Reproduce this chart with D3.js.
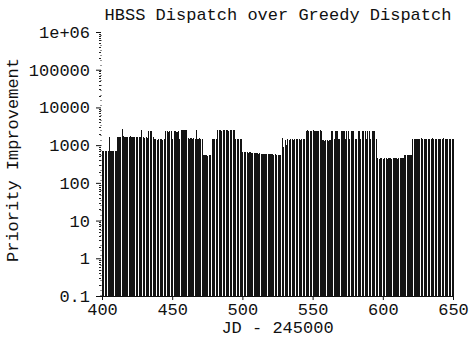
<!DOCTYPE html>
<html>
<head>
<meta charset="utf-8">
<script src="https://cdn.jsdelivr.net/npm/d3@7"></script>
<style>
  body { margin: 0; background: #fff; }
  svg { display: block; }
  text { font-family: "Courier New", "Liberation Mono", monospace; fill: #111; }
</style>
</head>
<body>
<div id="chart"></div>
<script>
// julian day offset (JD - 245000), one impulse per day
var days = d3.range(400, 651);

// priority improvement, day 400 .. 650
var improvement = [
  // 400-410
  700, 690, 700, 710, 700, 1650, 700, 690, 700, 700, 710,
  // 411-427
  1650, 1600, 1650, 2650, 1700, 1650, 1650, 1600, 1650, 1700, 1650, 1650, 1600, 1650, 1600, 1650, 1600,
  // 428-436
  2500, 1600, 1550, 1600, 1550, 2350, 2400, 2350, 1600,
  // 437-444
  1450, 1450, 1400, 1450, 1450, 1450, 1400, 1450,
  // 445-449
  2350, 2350, 2300, 2350, 2350,
  // 450-455
  1500, 2350, 2350, 2300, 2350, 1500,
  // 456-460
  2550, 2500, 2550, 2500, 2550,
  // 461-471
  1550, 1500, 1550, 1500, 1550, 1500, 2550, 1500, 1550, 1500, 1500,
  // 472-477
  550, 540, 550, 530, 550, 540,
  // 478-481
  1500, 1450, 1500, 1500,
  // 482-494
  2550, 2500, 2550, 2400, 2550, 2550, 2500, 2550, 2400, 2550, 2550, 2500, 2550,
  // 495-499
  1500, 1500, 1450, 1500, 1500,
  // 500-527
  650, 650, 640, 640, 630, 640, 620, 630, 620, 610, 620, 600, 610, 600,
  590, 600, 590, 580, 590, 570, 580, 570, 560, 570, 560, 550, 560, 550,
  // 528-544
  1550, 900, 1400, 1000, 1450, 1400, 1450, 1450, 1400, 1450, 1450, 1500, 1450, 1400, 1450, 1450, 1450,
  // 545-556
  2400, 2450, 2400, 2350, 2400, 2450, 2400, 2400, 2350, 2400, 2450, 2400,
  // 557-562
  1350, 1300, 1350, 1350, 1300, 1350,
  // 563-595
  2350, 2350, 1500, 2350, 2350, 1500, 1500, 2350, 2350, 2350, 1500, 2350, 2350, 1500, 2350, 2350, 2350,
  1500, 1500, 2350, 2350, 1500, 2350, 2350, 2350, 1500, 2350, 2350, 1500, 2350, 2350, 2350, 1500,
  // 596-614
  450, 440, 450, 460, 440, 450, 450, 440, 460, 450, 440, 450, 460, 450, 440, 450, 460, 450, 450,
  // 615-620
  550, 540, 550, 560, 550, 540,
  // 621-650
  1500, 1450, 1500, 1500, 1450, 1500, 1550, 1500, 1450, 1500, 1500, 1450, 1500, 1500, 1550,
  1500, 1450, 1500, 1500, 1450, 1500, 1500, 1550, 1500, 1450, 1500, 1500, 1450, 1500, 1500
];

var xTicks = [400, 450, 500, 550, 600, 650];
var yTicks = [0.1, 1, 10, 100, 1000, 10000, 100000, 1000000];
var yTickLabels = ["0.1", "1", "10", "100", "1000", "10000", "100000", "1e+06"];

var title = "HBSS Dispatch over Greedy Dispatch";
var xTitle = "JD - 245000";
var yTitle = "Priority Improvement";

var width = 472;
var height = 343;
var plot_left = 102, plot_right = 453, plot_top = 32, plot_bottom = 296;
var fontSize = 17;

var svg = d3.select("#chart")
  .append("svg")
  .attr("width", width)
  .attr("height", height);

var x_scale = d3.scaleLinear().domain([400, 650]).range([plot_left, plot_right]);
var y_scale = d3.scaleLog().domain([0.1, 1e6]).range([plot_bottom, plot_top]);

// impulses
var step = x_scale(401) - x_scale(400);
svg.append("g")
  .attr("shape-rendering", "crispEdges")
  .selectAll("rect")
  .data(days)
  .enter()
  .append("rect")
  .attr("x", function(d){ return x_scale(d); })
  .attr("width", step * 0.78)
  .attr("y", function(d, i){ return y_scale(improvement[i]); })
  .attr("height", function(d, i){ return y_scale(0.1) - y_scale(improvement[i]); })
  .attr("fill", "#141414");

// left axis: dotted line with minor ticks
var minor = [];
yTicks.slice(0, -1).forEach(function(t){
  for (var k = 2; k <= 9; k++) minor.push(t * k);
});
svg.append("line")
  .attr("x1", plot_left - 1).attr("x2", plot_left - 1)
  .attr("y1", y_scale(0.1)).attr("y2", y_scale(1e6))
  .attr("stroke", "#333")
  .attr("stroke-width", 1)
  .attr("stroke-dasharray", "1,4");
svg.append("g")
  .selectAll("line")
  .data(minor)
  .enter()
  .append("line")
  .attr("x1", plot_left - 3).attr("x2", plot_left - 1)
  .attr("y1", function(d){ return Math.round(y_scale(d)) + 0.5; })
  .attr("y2", function(d){ return Math.round(y_scale(d)) + 0.5; })
  .attr("stroke", "#222");

var yAxis = d3.axisLeft(y_scale)
  .tickValues(yTicks)
  .tickFormat(function(d, i){ return yTickLabels[i]; })
  .tickSize(5)
  .tickPadding(6);

var gy = svg.append("g")
  .attr("transform", "translate(" + (plot_left - 1) + ",0)")
  .call(yAxis);
gy.select(".domain").remove();
gy.selectAll("line").attr("stroke", "#111");
gy.selectAll("text")
  .attr("font-size", fontSize)
  .attr("font-family", null)
  .style("fill", "#111");

var xAxis = d3.axisBottom(x_scale)
  .tickValues(xTicks)
  .tickSize(4)
  .tickPadding(3);

var gx = svg.append("g")
  .attr("transform", "translate(0," + plot_bottom + ")")
  .call(xAxis);
gx.select(".domain").attr("d", "M" + (plot_left - 1) + ",0.5H" + (plot_right + 1)).attr("stroke", "#111");
gx.selectAll("line").attr("stroke", "#111");
gx.selectAll("text")
  .attr("font-size", fontSize)
  .attr("font-family", null)
  .style("fill", "#111");

// titles
svg.append("text")
  .attr("x", 278)
  .attr("y", 20)
  .attr("text-anchor", "middle")
  .attr("font-size", fontSize)
  .text(title);

svg.append("text")
  .attr("x", (plot_left + plot_right) / 2)
  .attr("y", 333)
  .attr("text-anchor", "middle")
  .attr("font-size", fontSize)
  .text(xTitle);

svg.append("text")
  .attr("transform", "translate(18,160)rotate(-90)")
  .attr("text-anchor", "middle")
  .attr("font-size", fontSize)
  .text(yTitle);
</script>
</body>
</html>
